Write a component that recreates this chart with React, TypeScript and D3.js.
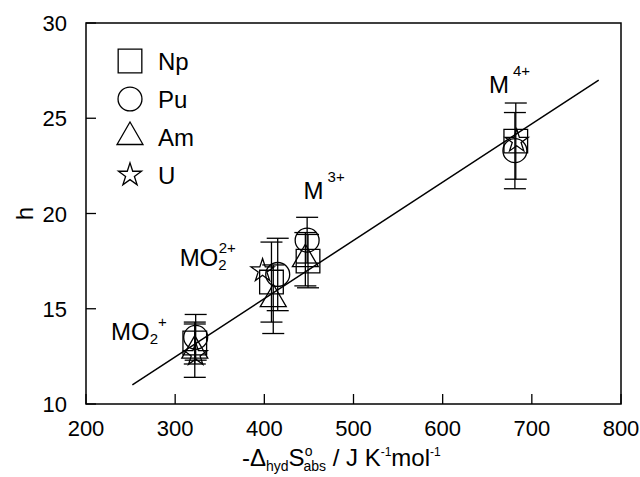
import React from "react";
import * as d3 from "d3";

// values (x: -ΔhydS°abs, y: h)
const npX = [322, 408, 449, 682];
const npY = [13.2, 16.4, 17.5, 23.8];
const npErr = [1.1, 2.1, 1.4, 2.0];

const puX = [323, 415, 448, 681];
const puY = [13.5, 16.8, 18.6, 23.3];
const puErr = [1.2, 1.9, 1.2, 2.0];

const amX = [322, 410, 446];
const amY = [12.8, 15.5, 17.6];
const amErr = [1.4, 1.8, 1.4];

const uX = [323, 398, 683];
const uY = [12.6, 17.0, 23.8];

const fitX = [252, 775];
const fitY = [11.0, 27.0];

const xTicks = [200, 300, 400, 500, 600, 700, 800];
const yTicks = [10, 15, 20, 25, 30];

const legendNames = ["Np", "Pu", "Am", "U"];

const W = 640;
const H = 477;
const margin = { top: 23, right: 19, bottom: 73, left: 86 };
const FONT = "'Liberation Sans', Arial, sans-serif";

const x = d3.scaleLinear().domain([200, 800]).range([margin.left, W - margin.right]);
const y = d3.scaleLinear().domain([10, 30]).range([H - margin.bottom, margin.top]);

const sym = {
  Np: d3.symbol(d3.symbolSquare, 560)(),
  Pu: d3.symbol(d3.symbolCircle, 450)(),
  Am: d3.symbol(d3.symbolTriangle, 292)(),
  U: d3.symbol(d3.symbolStar, 165)(),
};

const ErrBars = ({ xs, ys, errs }: { xs: number[]; ys: number[]; errs: number[] }) => (
  <g stroke="#000" strokeWidth={1.3}>
    {xs.map((v, i) => {
      const cx = x(v);
      const y0 = y(ys[i] - errs[i]);
      const y1 = y(ys[i] + errs[i]);
      return (
        <g key={i}>
          <line x1={cx} x2={cx} y1={y0} y2={y1} />
          <line x1={cx - 11} x2={cx + 11} y1={y0} y2={y0} />
          <line x1={cx - 11} x2={cx + 11} y1={y1} y2={y1} />
        </g>
      );
    })}
  </g>
);

const Marks = ({ xs, ys, d }: { xs: number[]; ys: number[]; d: string | null }) => (
  <g fill="none" stroke="#000" strokeWidth={1.3}>
    {xs.map((v, i) => (
      <path key={i} d={d || ""} transform={`translate(${x(v)},${y(ys[i])})`} />
    ))}
  </g>
);

export default function App() {
  const bottom = H - margin.bottom;
  const right = W - margin.right;
  const line = d3.line<number>().x((v) => x(v)).y((_, i) => y(fitY[i]));
  const legendSyms = [sym.Np, sym.Pu, sym.Am, sym.U];

  return (
    <svg width={W} height={H} style={{ position: "absolute", left: 0, top: 0, background: "#fff" }}
      fontFamily={FONT}>
      {/* frame */}
      <rect x={margin.left} y={margin.top} width={right - margin.left} height={bottom - margin.top}
        fill="none" stroke="#000" strokeWidth={1.5} />

      {/* x ticks */}
      {xTicks.map((t) => (
        <g key={t}>
          <line x1={x(t)} x2={x(t)} y1={bottom} y2={bottom - 10} stroke="#000" strokeWidth={1.3} />
          <text x={x(t)} y={436} fontSize={22} textAnchor="middle">{t}</text>
        </g>
      ))}
      {/* y ticks */}
      {yTicks.map((t) => (
        <g key={t}>
          <line x1={margin.left} x2={margin.left + 10} y1={y(t)} y2={y(t)} stroke="#000" strokeWidth={1.3} />
          <text x={67} y={y(t) + 8} fontSize={22} textAnchor="end">{t}</text>
        </g>
      ))}

      {/* axis titles */}
      <text transform={`translate(33,${y(20)}) rotate(-90)`} fontSize={24} textAnchor="middle">h</text>
      <text x={242} y={466} fontSize={24}>
        -Δ
        <tspan fontSize={14} dy={5}>hyd</tspan>
        <tspan dy={-5}>S</tspan>
        <tspan fontSize={14} dy={-10}>o</tspan>
        <tspan fontSize={14} dx={-9} dy={15}>abs</tspan>
        <tspan dy={-5}> / J K</tspan>
        <tspan fontSize={12} dy={-10}>-1</tspan>
        <tspan dy={10}>mol</tspan>
        <tspan fontSize={12} dy={-10}>-1</tspan>
      </text>

      {/* fit line */}
      <path d={line(fitX) || ""} fill="none" stroke="#000" strokeWidth={1.5} />

      {/* error bars */}
      <ErrBars xs={npX} ys={npY} errs={npErr} />
      <ErrBars xs={puX} ys={puY} errs={puErr} />
      <ErrBars xs={amX} ys={amY} errs={amErr} />

      {/* markers */}
      <Marks xs={npX} ys={npY} d={sym.Np} />
      <Marks xs={puX} ys={puY} d={sym.Pu} />
      <Marks xs={amX} ys={amY} d={sym.Am} />
      <Marks xs={uX} ys={uY} d={sym.U} />

      {/* ion labels */}
      <text x={x(228)} y={y(13.36)} fontSize={24}>
        MO<tspan fontSize={15} dy={4}>2</tspan>
        <tspan fontSize={15} dy={-17}>+</tspan>
      </text>
      <text x={x(305)} y={y(17.24)} fontSize={24}>
        MO<tspan fontSize={15} dy={4}>2</tspan>
        <tspan fontSize={15} dx={-8} dy={-17}>2+</tspan>
      </text>
      <text x={x(444)} y={y(20.76)} fontSize={24}>
        M<tspan fontSize={15} dx={4} dy={-17}>3+</tspan>
      </text>
      <text x={x(652)} y={y(26.3)} fontSize={24}>
        M<tspan fontSize={15} dx={4} dy={-17}>4+</tspan>
      </text>

      {/* legend */}
      {legendNames.map((n, i) => (
        <g key={n} transform={`translate(130,${61 + i * 38})`}>
          <path d={legendSyms[i] || ""} fill="none" stroke="#000" strokeWidth={1.3} />
          <text x={28} y={9} fontSize={24}>{n}</text>
        </g>
      ))}
    </svg>
  );
}
